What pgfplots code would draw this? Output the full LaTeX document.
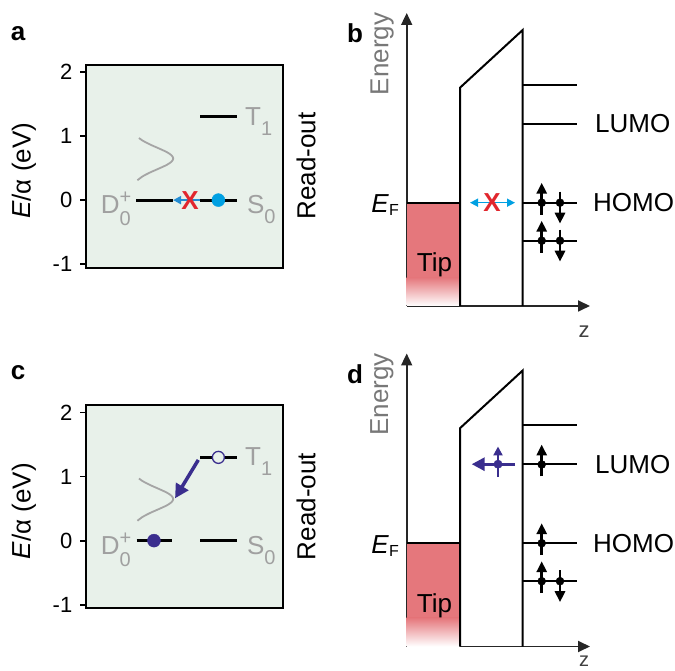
\documentclass[border=0pt]{standalone}
\usepackage{fontspec}
\setmainfont{Liberation Sans}
\usepackage{pgfplots}
\pgfplotsset{compat=1.18}
\usetikzlibrary{arrows.meta}
\newcommand{\fs}[1]{\fontsize{#1bp}{#1bp}\selectfont}
\definecolor{bggreen}{RGB}{232,241,234}
\definecolor{lblgray}{RGB}{160,160,160}
\definecolor{curvegray}{RGB}{165,165,165}
\definecolor{xred}{RGB}{225,38,45}
\definecolor{lblue}{RGB}{0,160,226}
\definecolor{arrowblue}{RGB}{35,140,210}
\definecolor{indigo}{RGB}{58,46,142}
\definecolor{tipred}{RGB}{229,119,124}
\definecolor{engray}{RGB}{120,120,120}

\tikzset{glbl/.style={text=lblgray, font=\fs{26}, inner sep=0pt}}
\pgfplotsset{
 levelpanel/.style={scale only axis, width=197bp, height=203bp,
   xmin=0, xmax=100, ymin=-1.06, ymax=2.11, clip=false,
   axis background/.style={fill=bggreen}, axis line style={line width=2bp},
   xtick=\empty, ytick={-1,0,1,2}, ytick pos=left, tick align=outside,
   major tick length=5.5bp,
   every tick/.style={black, line width=1.8bp},
   yticklabel style={font=\fs{22}, inner sep=2bp, xshift=-6bp},
   /pgf/number format/assume math mode=true,
   ylabel={\textit{E}/α (eV)},
   ylabel style={font=\fs{26}, at={(axis description cs:-0.315,0.479)}, anchor=center},
 },
 energypanel/.style={scale only axis, width=183.3bp, height=293bp,
   xmin=0, xmax=183.3, ymin=0, ymax=293, clip=false,
   axis lines=left,
   axis line style={line width=1.8bp, draw=black!85, -{Triangle[length=12bp,width=11bp]}},
   xtick=\empty, ytick=\empty},
 lvl/.style={black, line width=3bp},
 blvl/.style={black, line width=2bp},
 spin/.style={black, line width=2.8bp, -{Triangle[length=11bp,width=10bp]}},
 dot/.style={only marks, mark=*, mark size=4bp, black},
}

\begin{document}
\begin{tikzpicture}
\useasboundingbox (0,0) rectangle (675bp,671bp);
\clip (0,0) rectangle (675bp,671bp);

% ---------------- panel a
\begin{axis}[levelpanel, at={(86bp,403bp)}, anchor=south west]
 \addplot[curvegray, line width=1.8bp, smooth] coordinates {(26.1,0.31) (28.7,0.37) (32.4,0.43) (36.8,0.49) (41.0,0.55) (43.4,0.60) (44.3,0.65) (43.4,0.70) (41.0,0.75) (36.8,0.81) (32.4,0.87) (28.7,0.93) (26.9,0.97)};
 \addplot[lvl] coordinates {(25.4,0) (44,0)};
 \addplot[lvl] coordinates {(57.9,0) (76.5,0)};
 \addplot[lvl] coordinates {(57.9,1.3) (76.5,1.3)};
 \addplot[arrowblue, line width=2bp, -{Triangle[length=8bp,width=8bp]}] coordinates {(57.9,0) (44.2,0)};
 \addplot[only marks, mark=*, mark size=6.5bp, lblue, mark options={draw=lblue}] coordinates {(67.2,0)};
 \node[text=xred, font=\bfseries\fs{26}] at (axis cs:52.8,0) {X};
 \node[glbl, anchor=base east] at (axis cs:22.8,-0.21) {D\rlap{\raisebox{10bp}{\fs{20}+}}\raisebox{-12bp}{\fs{20}0}};
 \node[glbl, anchor=base west] at (axis cs:80.7,1.17) {T\raisebox{-10bp}{\fs{20}1}};
 \node[glbl, anchor=base west] at (axis cs:81.7,-0.21) {S\raisebox{-10bp}{\fs{20}0}};
 \node[rotate=90, font=\fs{26}] at (axis description cs:1.117,0.502) {Read-out};
 \node[font=\bfseries\fs{26}] at (axis description cs:-0.345,1.153) {a};
\end{axis}

% ---------------- panel c
\begin{axis}[levelpanel, at={(86bp,62.5bp)}, anchor=south west]
 \addplot[curvegray, line width=1.8bp, smooth] coordinates {(26.1,0.31) (28.7,0.37) (32.4,0.43) (36.8,0.49) (41.0,0.55) (43.4,0.60) (44.3,0.65) (43.4,0.70) (41.0,0.75) (36.8,0.81) (32.4,0.87) (28.7,0.93) (26.9,0.97)};
 \addplot[lvl] coordinates {(25.7,0) (43.5,0)};
 \addplot[lvl] coordinates {(57.9,0) (76.5,0)};
 \addplot[lvl] coordinates {(57.9,1.3) (76.5,1.3)};
 \addplot[only marks, mark=*, mark size=6.5bp, indigo, mark options={draw=indigo}] coordinates {(34.5,0)};
 \addplot[only marks, mark=*, mark size=6bp, mark options={draw=indigo, fill=bggreen, line width=1.3bp}] coordinates {(67.2,1.3)};
 \addplot[indigo, line width=3.5bp, -{Triangle[length=14bp,width=14bp]}] coordinates {(57,1.26) (45.2,0.66)};
 \node[glbl, anchor=base east] at (axis cs:22.8,-0.21) {D\rlap{\raisebox{10bp}{\fs{20}+}}\raisebox{-12bp}{\fs{20}0}};
 \node[glbl, anchor=base west] at (axis cs:80.7,1.17) {T\raisebox{-10bp}{\fs{20}1}};
 \node[glbl, anchor=base west] at (axis cs:81.7,-0.21) {S\raisebox{-10bp}{\fs{20}0}};
 \node[rotate=90, font=\fs{26}] at (axis description cs:1.117,0.502) {Read-out};
 \node[font=\bfseries\fs{26}] at (axis description cs:-0.345,1.16) {c};
\end{axis}

% ---------------- panel b
\begin{axis}[energypanel, at={(406.7bp,365bp)}, anchor=south west]
 \addplot[draw=none, fill=tipred] coordinates {(0,28) (53.3,28) (53.3,103.3) (0,103.3)};
 \addplot[draw=none, shade, top color=tipred, bottom color=white] coordinates {(0,0) (53.3,0) (53.3,28.5) (0,28.5)};
 \addplot[blvl] coordinates {(0,103.3) (53.3,103.3)};
 \addplot[blvl] coordinates {(53.3,0) (53.3,218.3) (116,276) (116,0)};
 \addplot[blvl] coordinates {(116,221) (170,221)};
 \addplot[blvl] coordinates {(116,182) (170,182)};
 \addplot[blvl] coordinates {(116,103.3) (170,103.3)};
 \addplot[blvl] coordinates {(116,65.3) (170,65.3)};
 \addplot[spin] coordinates {(135,91.3) (135,123.3)};
 \addplot[spin] coordinates {(153.3,114.3) (153.3,82.3)};
 \addplot[spin] coordinates {(135,53.3) (135,85.3)};
 \addplot[spin] coordinates {(153.3,76.3) (153.3,44.3)};
 \addplot[dot] coordinates {(135,103.3) (153.3,103.3) (135,65.3) (153.3,65.3)};
 \addplot[lblue, line width=1.5bp, {Triangle[length=8bp,width=8bp]}-{Triangle[length=8bp,width=8bp]}] coordinates {(63.3,103.3) (108.3,103.3)};
 \node[text=xred, font=\bfseries\fs{26}] at (axis cs:85.3,103.3) {X};
 \node[anchor=west, font=\fs{26}, inner sep=0pt] at (axis cs:188.3,182) {LUMO};
 \node[anchor=west, font=\fs{26}, inner sep=0pt] at (axis cs:186.3,103.3) {HOMO};
 \node[anchor=base east, font=\fs{26}, inner sep=0pt] at (axis cs:-7.7,93) {\textit{E}\raisebox{-3bp}{\fs{16}F}};
 \node[anchor=base, font=\fs{26}, inner sep=0pt] at (axis cs:27.8,34) {Tip};
 \node[rotate=90, text=engray, font=\fs{26}] at (axis cs:-24.7,252) {Energy};
 \node[font=\bfseries\fs{26}] at (axis cs:-51.7,272.5) {b};
 \node[text=black!75, font=\fs{22}, anchor=base] at (axis cs:177.3,-32) {z};
\end{axis}

% ---------------- panel d
\begin{axis}[energypanel, at={(406.7bp,24.5bp)}, anchor=south west]
 \addplot[draw=none, fill=tipred] coordinates {(0,28) (53.3,28) (53.3,103.3) (0,103.3)};
 \addplot[draw=none, shade, top color=tipred, bottom color=white] coordinates {(0,0) (53.3,0) (53.3,28.5) (0,28.5)};
 \addplot[blvl] coordinates {(0,103.3) (53.3,103.3)};
 \addplot[blvl] coordinates {(53.3,0) (53.3,218.3) (116,276) (116,0)};
 \addplot[blvl] coordinates {(116,221) (170,221)};
 \addplot[blvl] coordinates {(116,182) (170,182)};
 \addplot[blvl] coordinates {(116,103.3) (170,103.3)};
 \addplot[blvl] coordinates {(116,65.3) (170,65.3)};
 \addplot[spin] coordinates {(135,170) (135,202)};
 \addplot[spin] coordinates {(135,91.3) (135,123.3)};
 \addplot[spin] coordinates {(135,53.3) (135,85.3)};
 \addplot[spin] coordinates {(153.3,76.3) (153.3,44.3)};
 \addplot[dot] coordinates {(135,182) (135,103.3) (135,65.3) (153.3,65.3)};
 \addplot[indigo, line width=3bp, -{Triangle[length=13bp,width=13bp]}] coordinates {(108.3,182.3) (65,182.3)};
 \addplot[indigo, line width=2.5bp, -{Triangle[length=9bp,width=9bp]}] coordinates {(91.3,169.3) (91.3,200)};
 \addplot[only marks, mark=*, mark size=4.2bp, indigo] coordinates {(91.3,182.3)};
 \node[anchor=west, font=\fs{26}, inner sep=0pt] at (axis cs:188.3,182) {LUMO};
 \node[anchor=west, font=\fs{26}, inner sep=0pt] at (axis cs:186.3,103.3) {HOMO};
 \node[anchor=base east, font=\fs{26}, inner sep=0pt] at (axis cs:-7.7,93) {\textit{E}\raisebox{-3bp}{\fs{16}F}};
 \node[anchor=base, font=\fs{26}, inner sep=0pt] at (axis cs:27.8,34) {Tip};
 \node[rotate=90, text=engray, font=\fs{26}] at (axis cs:-24.7,252) {Energy};
 \node[font=\bfseries\fs{26}] at (axis cs:-51.7,272.5) {d};
 \node[text=black!75, font=\fs{20}, anchor=base, inner sep=0pt] at (axis cs:177.3,-20) {z};
\end{axis}
\end{tikzpicture}
\end{document}
